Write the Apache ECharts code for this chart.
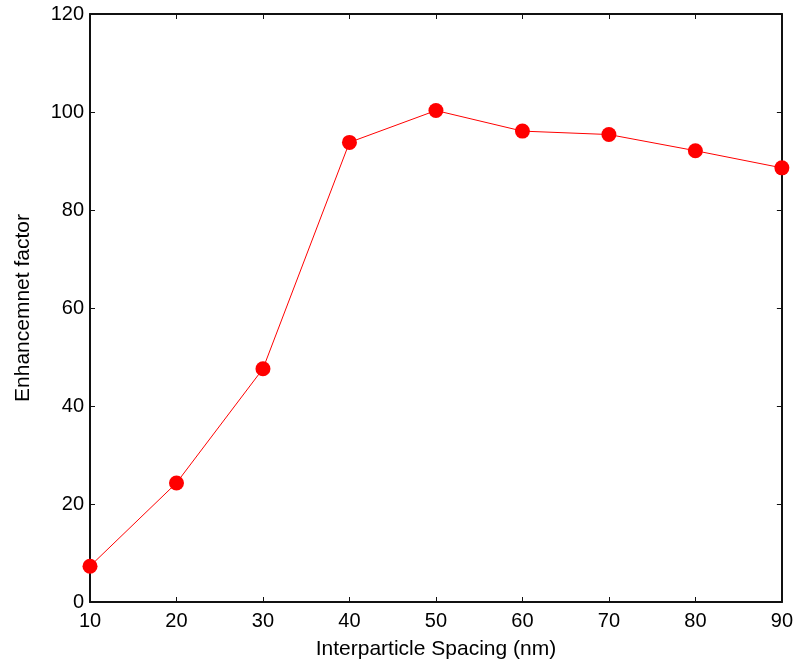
<!DOCTYPE html>
<html>
<head>
<meta charset="utf-8">
<script src="https://cdn.jsdelivr.net/npm/echarts@6/dist/echarts.min.js"></script>
<style>
  html, body { margin: 0; padding: 0; background: #fff; }
  #chart { width: 796px; height: 665px; }
</style>
</head>
<body>
<div id="chart"></div>
<script>
// spacing (nm) vs enhancement factor
const spacing = [10, 20, 30, 40, 50, 60, 70, 80, 90]
const enhancement = [7.3, 24.3, 47.6, 93.8, 100.3, 96.1, 95.4, 92.1, 88.6]

const font = 'Liberation Sans, Arial, sans-serif'

const tickStyle = {
  axisLine: { show: true, onZero: false, lineStyle: { color: '#111', width: 2 } },
  axisTick: { show: true, inside: true, length: 5, lineStyle: { color: '#111', width: 1 } },
  splitLine: { show: false }
}

const chart = echarts.init(document.getElementById('chart'), null, { renderer: 'canvas' })

chart.setOption({
  animation: false,
  grid: { left: 90, right: 14, top: 14, bottom: 63 },
  xAxis: [
    {
      type: 'value', min: 10, max: 90, interval: 10, position: 'bottom',
      name: 'Interparticle Spacing (nm)', nameLocation: 'middle', nameGap: 37,
      nameTextStyle: { color: '#000', fontSize: 21, fontFamily: font },
      axisLabel: { color: '#000', fontSize: 20, fontFamily: font, margin: 9 },
      ...tickStyle
    },
    {
      type: 'value', min: 10, max: 90, interval: 10, position: 'top',
      axisLabel: { show: false },
      ...tickStyle
    }
  ],
  yAxis: [
    {
      type: 'value', min: 0, max: 120, interval: 20, position: 'left',
      name: 'Enhancemnet factor', nameLocation: 'middle', nameGap: 56,
      nameTextStyle: { color: '#000', fontSize: 21, fontFamily: font },
      axisLabel: { color: '#000', fontSize: 20, fontFamily: font, margin: 6 },
      ...tickStyle
    },
    {
      type: 'value', min: 0, max: 120, interval: 20, position: 'right',
      axisLabel: { show: false },
      ...tickStyle
    }
  ],
  series: [{
    type: 'line',
    data: spacing.map((x, i) => [x, enhancement[i]]),
    symbol: 'circle',
    symbolSize: 15,
    itemStyle: { color: '#ff0000' },
    lineStyle: { color: '#ff0000', width: 1 },
    clip: false
  }]
})
</script>
</body>
</html>
